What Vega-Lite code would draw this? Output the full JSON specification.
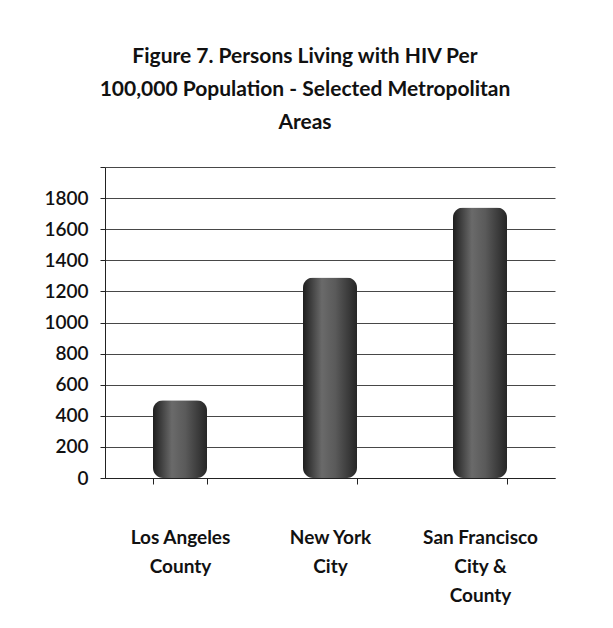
{
  "$schema": "https://vega.github.io/schema/vega-lite/v6.json",
  "autosize": "none",
  "width": 450,
  "height": 311,
  "padding": {"left": 105, "top": 167, "right": 58, "bottom": 150},
  "background": "white",
  "title": {
    "text": ["Figure 7. Persons Living with HIV Per", "100,000 Population - Selected Metropolitan", "Areas"],
    "font": "Lato",
    "fontSize": 21,
    "fontWeight": "bold",
    "color": "#111",
    "lineHeight": 33,
    "anchor": "middle",
    "dx": -25,
    "offset": 34
  },
  "data": {
    "values": [
      {"area": "Los Angeles County", "rate": 500},
      {"area": "New York City", "rate": 1290},
      {"area": "San Francisco City & County", "rate": 1740}
    ]
  },
  "config": {"view": {"stroke": null}},
  "mark": {
    "type": "bar",
    "cornerRadiusTopLeft": 10,
    "cornerRadiusTopRight": 10,
    "cornerRadiusBottomLeft": 10,
    "cornerRadiusBottomRight": 10,
    "color": {
      "gradient": "linear",
      "x1": 0, "x2": 1, "y1": 0, "y2": 0,
      "stops": [
        {"offset": 0, "color": "#1e1e1e"},
        {"offset": 0.35, "color": "#6a6a6a"},
        {"offset": 0.6, "color": "#5a5a5a"},
        {"offset": 1, "color": "#262626"}
      ]
    }
  },
  "encoding": {
    "x": {
      "field": "area",
      "type": "nominal",
      "sort": null,
      "scale": {"paddingInner": 0.64, "paddingOuter": 0.32},
      "axis": {
        "title": null,
        "labelAngle": 0,
        "labelFont": "Lato",
        "labelFontSize": 19,
        "labelFontWeight": "bold",
        "labelColor": "#111",
        "labelLineHeight": 29,
        "labelPadding": 44,
        "labelExpr": "datum.value == 'Los Angeles County' ? ['Los Angeles','County'] : datum.value == 'New York City' ? ['New York','City'] : datum.value == 'San Francisco City & County' ? ['San Francisco','City &','County'] : ''",
        "domainColor": "#222",
        "tickColor": "#222",
        "tickBand": "extent",
        "tickSize": 6,
        "grid": false
      }
    },
    "y": {
      "field": "rate",
      "type": "quantitative",
      "scale": {"domain": [0, 2000], "nice": false},
      "axis": {
        "title": null,
        "values": [0, 200, 400, 600, 800, 1000, 1200, 1400, 1600, 1800, 2000],
        "labelExpr": "datum.value == 2000 ? '' : datum.label",
        "format": "d",
        "labelFont": "Lato",
        "labelFontSize": 19,
        "labelFontWeight": 600,
        "labelColor": "#111",
        "labelPadding": 12,
        "tickSize": 5,
        "tickColor": "#222",
        "domainColor": "#222",
        "grid": true,
        "gridColor": "#333",
        "gridWidth": 0.9
      }
    }
  }
}
